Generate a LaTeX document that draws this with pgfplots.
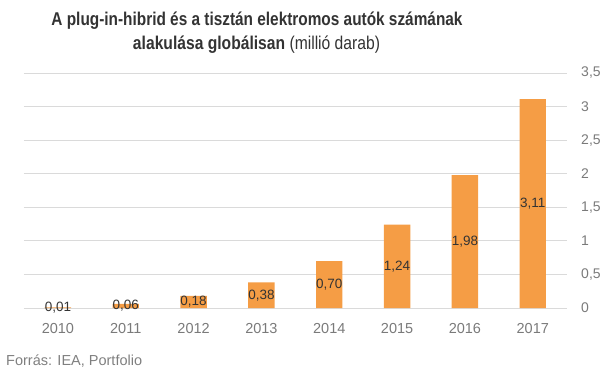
\documentclass[border=0pt]{standalone}
\usepackage{pgfplots}
\pgfplotsset{compat=1.18}
\usepackage{fontspec}
\usepackage{graphicx}
\setmainfont{Liberation Sans}
\definecolor{barc}{HTML}{F59D45}
\definecolor{gridc}{HTML}{DADADA}
\definecolor{tickc}{HTML}{7A7A7A}
\definecolor{titlec}{HTML}{333333}
\definecolor{srcc}{HTML}{7F7F7F}
\begin{document}
\begin{tikzpicture}[x=1pt,y=1pt]
\useasboundingbox (0,0) rectangle (602,372);
\begin{axis}[
  at={(24pt,64pt)}, anchor=south west,
  width=542.7pt, height=235pt, scale only axis,
  xmin=-0.5, xmax=7.5, ymin=0, ymax=3.5,
  axis line style={draw=none},
  major tick length=0pt,
  ytick={0,0.5,...,3.5},
  ymajorgrids, grid style={gridc, line width=0.9pt},
  yticklabel pos=right,
  xtick={0,...,7},
  xticklabels={2010,2011,2012,2013,2014,2015,2016,2017},
  /pgf/number format/.cd, use comma, 1000 sep={}, assume math mode=true,
  /pgfplots/.cd,
  ticklabel style={font=\fontsize{14.5}{16}\selectfont, text=tickc},
  yticklabel style={anchor=west, xshift=11pt, font=\fontsize{14}{16}\selectfont},
  xticklabel style={anchor=north, yshift=-12pt},
  ybar, bar width=26.4pt,
  nodes near coords,
  point meta=explicit symbolic,
  visualization depends on={rawy \as \rawy},
  every node near coord/.append style={anchor=center, text=titlec,
     font=\fontsize{13.5}{15}\selectfont,
     shift={(axis direction cs:0,-\rawy/2)}},
]
\addplot[fill=barc, draw=none] table[meta=lab] {
x y lab
0 0.01 0,01
1 0.06 0,06
2 0.18 0,18
3 0.38 0,38
4 0.70 0,70
5 1.24 1,24
6 1.98 1,98
7 3.11 3,11
};
\end{axis}
\node[anchor=base, text=titlec] at (257,346) {\resizebox{411pt}{\height}{\fontsize{18.5}{20}\selectfont\bfseries A plug-in-hibrid és a tisztán elektromos autók számának}};
\node[anchor=base, text=titlec] at (256.5,322) {\resizebox{247pt}{\height}{\fontsize{18.5}{20}\selectfont\textbf{alakulása globálisan} (millió darab)}};
\node[anchor=base west, text=srcc, inner sep=0pt] at (6,6) {\fontsize{14.5}{16}\selectfont Forrás: IEA, Portfolio};
\end{tikzpicture}
\end{document}
